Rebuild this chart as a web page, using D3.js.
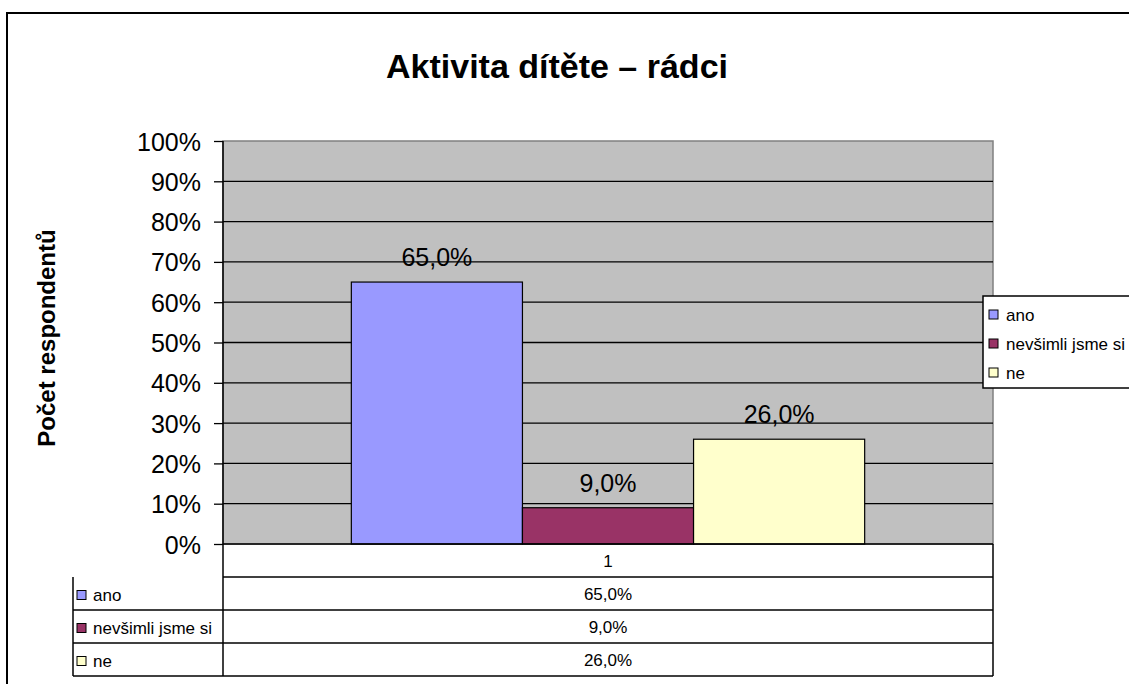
<!DOCTYPE html>
<html>
<head>
<meta charset="utf-8">
<script src="https://cdn.jsdelivr.net/npm/d3@7"></script>
<style>
  body { margin: 0; background: #fff; }
  svg { display: block; font-family: Arial, "Liberation Sans", sans-serif; }
</style>
</head>
<body>
<svg id="svg" width="1129" height="684"></svg>
<script>
// data
var categories = ["1"];
var seriesNames = ["ano", "nevšimli jsme si", "ne"];
var seriesValues = [0.65, 0.09, 0.26];
var seriesColors = ["#9999ff", "#993366", "#ffffcc"];
var yTicks = [0, 0.1, 0.2, 0.3, 0.4, 0.5, 0.6, 0.7, 0.8, 0.9, 1];

var svg = d3.select('#svg');

var plot = { left: 223, right: 993, top: 141, bottom: 544 };
var table = { left: 73, rowH: 33 };

var czLocale = d3.formatLocale({ decimal: ",", thousands: " ", grouping: [3], currency: ["", " Kč"] });
var fmtVal = czLocale.format(".1%");
var fmtTick = czLocale.format(".0%");

// outer chart border
svg.append("rect")
  .attr("x", 7).attr("y", 13)
  .attr("width", 1140).attr("height", 700)
  .attr("fill", "#fff").attr("stroke", "#000").attr("stroke-width", 2);

// title
svg.append("text")
  .attr("x", 557).attr("y", 78)
  .attr("text-anchor", "middle")
  .attr("font-size", 34).attr("font-weight", "bold")
  .text("Aktivita dítěte – rádci");

var yScale = d3.scaleLinear().domain([0, 1]).range([plot.bottom, plot.top]);

var xScale = d3.scaleBand()
  .domain(categories)
  .range([plot.left, plot.right]);

var xInner = d3.scaleBand()
  .domain(seriesNames)
  .range([0, xScale.bandwidth()])
  .paddingInner(0)
  .paddingOuter(0.75);

// plot background
svg.append("rect")
  .attr("x", plot.left).attr("y", plot.top)
  .attr("width", plot.right - plot.left).attr("height", plot.bottom - plot.top)
  .attr("fill", "#c0c0c0").attr("stroke", "#808080").attr("stroke-width", 1.5);

// gridlines
svg.append("g")
  .selectAll("line").data(yTicks.slice(1, -1)).enter()
  .append("line")
  .attr("x1", plot.left).attr("x2", plot.right)
  .attr("y1", function(d){ return yScale(d); })
  .attr("y2", function(d){ return yScale(d); })
  .attr("stroke", "#000").attr("stroke-width", 1.3);

// bars
var barGrp = svg.append("g");
barGrp.selectAll("rect").data(seriesValues).enter()
  .append("rect")
  .attr("x", function(d, i){ return xScale(categories[0]) + xInner(seriesNames[i]); })
  .attr("y", function(d){ return yScale(d); })
  .attr("width", xInner.bandwidth())
  .attr("height", function(d){ return plot.bottom - yScale(d); })
  .attr("fill", function(d, i){ return seriesColors[i]; })
  .attr("stroke", "#000").attr("stroke-width", 1.2);

// bar labels
barGrp.selectAll("text").data(seriesValues).enter()
  .append("text")
  .attr("x", function(d, i){ return xScale(categories[0]) + xInner(seriesNames[i]) + xInner.bandwidth() / 2; })
  .attr("y", function(d){ return yScale(d) - 16; })
  .attr("text-anchor", "middle")
  .attr("font-size", 25)
  .attr("fill", "#000")
  .text(function(d){ return fmtVal(d); });

// y axis
var yAxis = svg.append("g")
  .attr("transform", "translate(" + plot.left + ",0)")
  .call(d3.axisLeft(yScale).tickValues(yTicks).tickFormat(fmtTick).tickSize(9).tickPadding(13));
yAxis.select(".domain").remove();
yAxis.selectAll(".tick line").attr("stroke", "#000").attr("stroke-width", 1.3);
yAxis.selectAll(".tick text")
  .attr("font-size", 25).attr("font-family", "Arial, 'Liberation Sans', sans-serif")
  .attr("fill", "#000").attr("dy", "0.36em");

svg.append("text")
  .attr("transform", "translate(55,338) rotate(-90)")
  .attr("text-anchor", "middle")
  .attr("font-size", 24).attr("font-weight", "bold")
  .text("Počet respondentů");

// data table
var tableTop = plot.bottom;
var rowsBottom = tableTop + table.rowH * (seriesNames.length + 1);
var tGrp = svg.append("g");

// horizontal lines
tGrp.append("line")
  .attr("x1", plot.left).attr("x2", plot.right)
  .attr("y1", tableTop + table.rowH).attr("y2", tableTop + table.rowH);
d3.range(seriesNames.length).forEach(function(i){
  var y = tableTop + table.rowH * (i + 2);
  tGrp.append("line").attr("x1", table.left).attr("x2", plot.right).attr("y1", y).attr("y2", y);
});
tGrp.append("line")
  .attr("x1", table.left).attr("x2", table.left)
  .attr("y1", tableTop + table.rowH).attr("y2", rowsBottom);
tGrp.append("line")
  .attr("x1", plot.left).attr("x2", plot.left)
  .attr("y1", plot.top).attr("y2", rowsBottom);
tGrp.append("line")
  .attr("x1", plot.right).attr("x2", plot.right)
  .attr("y1", tableTop).attr("y2", rowsBottom);
tGrp.append("line")
  .attr("x1", plot.left).attr("x2", plot.right)
  .attr("y1", tableTop).attr("y2", tableTop);
tGrp.selectAll("line").attr("stroke", "#000").attr("stroke-width", 1.5);

// category label row
tGrp.append("text")
  .attr("x", xScale(categories[0]) + xScale.bandwidth() / 2)
  .attr("y", tableTop + table.rowH / 2 + 6)
  .attr("text-anchor", "middle").attr("font-size", 17)
  .text(categories[0]);

// series rows
seriesNames.forEach(function(name, i){
  var cy = tableTop + table.rowH * (i + 1) + table.rowH / 2;
  tGrp.append("rect")
    .attr("x", 77).attr("y", cy - 3)
    .attr("width", 9).attr("height", 9)
    .attr("fill", seriesColors[i]).attr("stroke", "#000").attr("stroke-width", 1);
  tGrp.append("text")
    .attr("x", 93).attr("y", cy + 7)
    .attr("font-size", 17)
    .text(name);
  tGrp.append("text")
    .attr("x", xScale(categories[0]) + xScale.bandwidth() / 2)
    .attr("y", cy + 6)
    .attr("text-anchor", "middle").attr("font-size", 17)
    .text(fmtVal(seriesValues[i]));
});

// legend
var lg = svg.append("g");
lg.append("rect")
  .attr("x", 983).attr("y", 296)
  .attr("width", 160).attr("height", 92)
  .attr("fill", "#fff").attr("stroke", "#000").attr("stroke-width", 1.5);
var legendY = d3.scalePoint().domain(seriesNames).range([315, 373]);
seriesNames.forEach(function(name, i){
  var cy = legendY(name);
  lg.append("rect")
    .attr("x", 989).attr("y", cy - 5)
    .attr("width", 9).attr("height", 9)
    .attr("fill", seriesColors[i]).attr("stroke", "#000").attr("stroke-width", 1);
  lg.append("text")
    .attr("x", 1006).attr("y", cy + 6)
    .attr("font-size", 17)
    .text(name);
});
</script>
</body>
</html>
